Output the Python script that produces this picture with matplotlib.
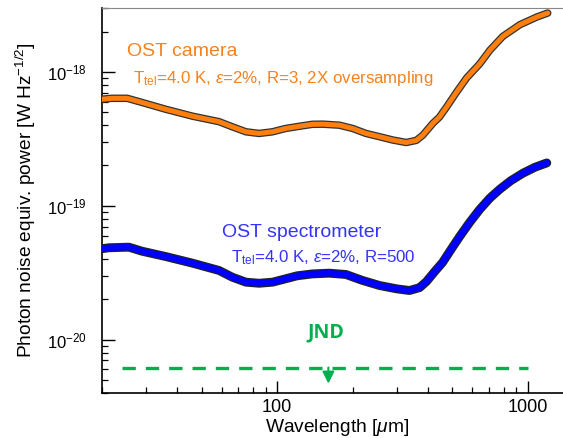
import matplotlib
matplotlib.use("Agg")
import matplotlib.pyplot as plt
import matplotlib.patheffects as pe
from matplotlib.ticker import FixedLocator, NullFormatter, LogLocator

plt.rcParams['font.family'] = ['Liberation Sans', 'DejaVu Sans']
plt.rcParams['mathtext.fontset'] = 'custom'
plt.rcParams['mathtext.rm'] = 'Liberation Sans'
plt.rcParams['mathtext.it'] = 'Liberation Sans:italic'
plt.rcParams['mathtext.bf'] = 'Liberation Sans:bold'

# ---- data ----
cam_wl = [20, 21.9, 25.2, 28.1, 35.9, 45.9, 58.6, 66.2, 75, 84.7, 95.8, 108,
          122, 138, 152, 177, 200, 226, 256, 289, 327, 359, 381, 418, 444,
          474, 520, 570, 643, 705, 794, 929, 1086, 1200]
cam_nep = [6.25e-19, 6.35e-19, 6.35e-19, 6.0e-19, 5.26e-19, 4.67e-19, 4.25e-19,
           3.89e-19, 3.57e-19, 3.47e-19, 3.57e-19, 3.78e-19, 3.92e-19, 4.06e-19,
           4.07e-19, 4.0e-19, 3.78e-19, 3.47e-19, 3.28e-19, 3.1e-19, 2.97e-19,
           3.08e-19, 3.37e-19, 4.13e-19, 4.6e-19, 5.47e-19, 7.08e-19, 9.02e-19,
           1.15e-18, 1.45e-18, 1.84e-18, 2.25e-18, 2.57e-18, 2.75e-18]

spec_wl = [20, 21.3, 25.6, 28.9, 35.9, 45.9, 58.6, 66.2, 75, 84.7, 95.8, 108,
           120, 138, 161, 188, 219, 256, 299, 337, 370, 394, 425, 457, 497,
           535, 586, 643, 705, 773, 855, 955, 1067, 1190]
spec_nep = [4.78e-20, 4.86e-20, 4.91e-20, 4.58e-20, 4.18e-20, 3.73e-20, 3.29e-20,
            2.93e-20, 2.69e-20, 2.64e-20, 2.69e-20, 2.85e-20, 3.0e-20, 3.1e-20,
            3.14e-20, 3.07e-20, 2.77e-20, 2.54e-20, 2.4e-20, 2.33e-20, 2.45e-20,
            2.72e-20, 3.23e-20, 3.78e-20, 4.81e-20, 5.91e-20, 7.52e-20, 9.41e-20,
            1.14e-19, 1.33e-19, 1.54e-19, 1.75e-19, 1.94e-19, 2.09e-19]

jnd_wl = [24, 1000]
jnd_level = [6.2e-21, 6.2e-21]
jnd_arrow_wl = 160
jnd_arrow_tip = 4.7e-21

x_ticks = [100, 1000]
x_ticklabels = ['100', '1000']
y_ticks = [1e-20, 1e-19, 1e-18]
y_ticklabels = [r'$10^{-20}$', r'$10^{-19}$', r'$10^{-18}$']

orange = '#FF7F0E'
orange_txt = '#F5821F'
blue = '#0000FF'
blue_txt = '#3333FF'
green = '#00B050'

fig = plt.figure(figsize=(5.63, 4.38), dpi=100)
ax = fig.add_axes([102/563, 1-393/438, 470/563, 385/438])
ax.set_xscale('log')
ax.set_yscale('log')
ax.set_xlim(20, 1500)
ax.set_ylim(4e-21, 3e-18)

outline_c = [pe.Stroke(linewidth=5.4, foreground='#333333'), pe.Normal()]
outline_s = [pe.Stroke(linewidth=6.4, foreground='#222222'), pe.Normal()]
ax.plot(cam_wl, cam_nep, color=orange, lw=3.6, solid_capstyle='round',
        solid_joinstyle='round', path_effects=outline_c, zorder=3)
ax.plot(spec_wl, spec_nep, color=blue, lw=4.6, solid_capstyle='round',
        solid_joinstyle='round', path_effects=outline_s, zorder=3)

ax.plot(jnd_wl, jnd_level, color=green, lw=2.4, dashes=(4, 3), zorder=2)
ax.annotate('', xy=(jnd_arrow_wl, jnd_arrow_tip), xytext=(jnd_arrow_wl, jnd_level[0]),
            arrowprops=dict(arrowstyle='-|>,head_length=0.7,head_width=0.35',
                            color=green, lw=1.5, shrinkA=0, shrinkB=0))
ax.text(156, 1.127e-20, 'JND', color=green, fontsize=14, fontweight='bold',
        family=['Open Sans', 'DejaVu Sans'], ha='center', va='center')

ax.text(0.053, 0.886, 'OST camera', color=orange_txt, fontsize=14,
        transform=ax.transAxes, ha='left', va='center')
ax.text(0.066, 0.818, r'T$_{\rm tel}$=4.0 K, $\varepsilon$=2%, R=3, 2X oversampling',
        color=orange_txt, fontsize=12.2, transform=ax.transAxes, ha='left', va='center')
ax.text(0.255, 0.418, 'OST spectrometer', color=blue_txt, fontsize=14,
        transform=ax.transAxes, ha='left', va='center')
ax.text(0.275, 0.352, r'T$_{\rm tel}$=4.0 K, $\varepsilon$=2%, R=500',
        color=blue_txt, fontsize=12.2, transform=ax.transAxes, ha='left', va='center')

ax.xaxis.set_major_locator(FixedLocator(x_ticks))
ax.set_xticklabels(x_ticklabels)
ax.xaxis.set_minor_locator(LogLocator(base=10, subs=range(2, 10)))
ax.xaxis.set_minor_formatter(NullFormatter())
ax.yaxis.set_major_locator(FixedLocator(y_ticks))
ax.set_yticklabels(y_ticklabels)
ax.yaxis.set_minor_locator(LogLocator(base=10, subs=range(2, 10)))
ax.yaxis.set_minor_formatter(NullFormatter())

ax.tick_params(which='major', direction='in', length=9, width=1.0, labelsize=13)
ax.tick_params(axis='y', which='major', pad=11, labelsize=12)
ax.tick_params(axis='x', which='major', pad=4)
ax.tick_params(which='minor', direction='in', length=4.5, width=0.9)
ax.tick_params(top=False, right=False, which='both')

ax.spines['top'].set_color('#888888')
ax.spines['right'].set_visible(False)
ax.spines['left'].set_linewidth(1.2)
ax.spines['bottom'].set_linewidth(1.2)

ax.set_xlabel(r'Wavelength [$\mu$m]', fontsize=13.8, labelpad=1)
ax.set_ylabel(r'Photon noise equiv. power [W Hz$^{-1/2}$]', fontsize=13.8)
ax.yaxis.set_label_coords(-0.136, 0.5)

fig.savefig('out.png', dpi=100)
